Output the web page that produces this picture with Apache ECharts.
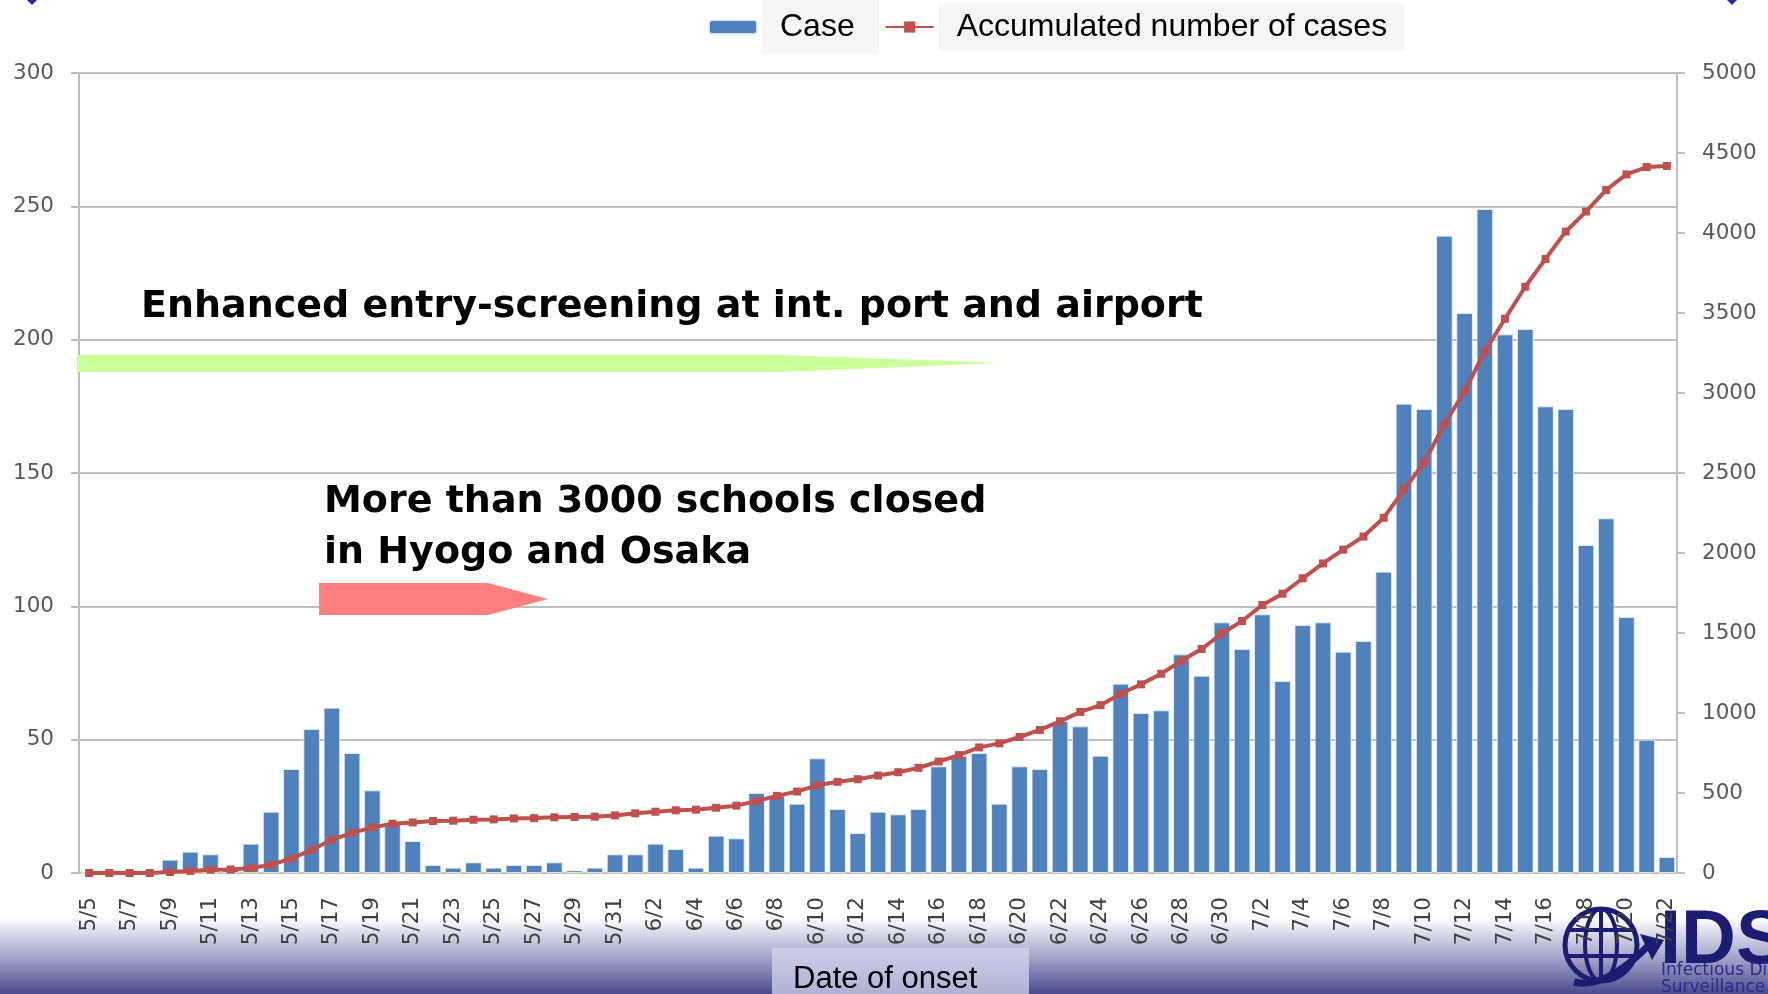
<!DOCTYPE html>
<html>
<head>
<meta charset="utf-8">
<title>Cases by date of onset</title>
<script src="https://cdn.jsdelivr.net/npm/echarts/dist/echarts.min.js"></script>
<style>
  html, body { margin: 0; padding: 0; background: #fff; }
  #chart { width: 1768px; height: 994px; }
</style>
</head>
<body>
<div id="chart"></div>
<script>
// date of onset, 5/5 - 7/22
var dates = [
  '5/5','5/6','5/7','5/8','5/9','5/10','5/11','5/12','5/13','5/14','5/15','5/16','5/17','5/18',
  '5/19','5/20','5/21','5/22','5/23','5/24','5/25','5/26','5/27','5/28','5/29','5/30','5/31',
  '6/1','6/2','6/3','6/4','6/5','6/6','6/7','6/8','6/9','6/10','6/11','6/12','6/13','6/14','6/15',
  '6/16','6/17','6/18','6/19','6/20','6/21','6/22','6/23','6/24','6/25','6/26','6/27','6/28','6/29','6/30',
  '7/1','7/2','7/3','7/4','7/5','7/6','7/7','7/8','7/9','7/10','7/11','7/12','7/13','7/14','7/15',
  '7/16','7/17','7/18','7/19','7/20','7/21','7/22'
];
// daily cases (left axis)
var cases = [
  0,0,0,0,5,8,7,2,11,23,39,54,62,45,31,19,12,3,2,4,2,3,3,4,1,2,7,
  7,11,9,2,14,13,30,29,26,43,24,15,23,22,24,40,44,45,26,40,39,57,55,44,71,60,61,82,74,94,
  84,97,72,93,94,83,87,113,176,174,239,210,249,202,204,175,174,123,133,96,50,6
];
// accumulated number of cases (right axis)
var accumulated = [
  0,0,0,0,6,13,21,22,31,52,90,144,209,251,285,308,316,325,327,333,335,341,343,348,350,352,360,
  373,383,392,396,408,421,450,482,509,549,570,586,609,630,657,697,737,785,810,850,894,948,1007,1049,1120,1179,1245,1326,1400,1497,
  1575,1675,1746,1842,1935,2021,2103,2220,2395,2566,2805,3011,3261,3464,3664,3838,4009,4134,4269,4366,4412,4419
];

var navy = '#1c1c72';
var axisGray = '#bfbfbf';

var chart = echarts.init(document.getElementById('chart'));
chart.setOption({
  animation: false,
  legend: {
    left: 708,
    top: 0,
    padding: 0,
    itemGap: 6,
    itemWidth: 48,
    itemHeight: 14,
    data: [
      { name: 'Case', textStyle: { padding: [11, 24, 11, 18] } },
      { name: 'Accumulated number of cases', textStyle: { padding: [8, 18, 8, 18] } }
    ],
    textStyle: {
      fontFamily: 'Liberation Sans',
      fontSize: 32,
      color: '#000',
      backgroundColor: '#f6f6f6'
    }
  },
  grid: { left: 79, right: 91, top: 73, bottom: 121 },
  xAxis: {
    type: 'category',
    data: dates,
    axisLine: { lineStyle: { color: '#d4c3a6', width: 1.5 } },
    axisTick: { interval: 1, length: 8, lineStyle: { color: axisGray, width: 2 } },
    axisLabel: {
      interval: 1,
      rotate: 90,
      margin: 24,
      fontFamily: 'DejaVu Sans',
      fontSize: 21.5,
      color: '#404040'
    }
  },
  yAxis: [
    {
      type: 'value',
      min: 0, max: 300, interval: 50,
      axisLine: { show: true, lineStyle: { color: axisGray, width: 2 } },
      axisTick: { show: true, length: 8, lineStyle: { color: axisGray, width: 2 } },
      splitLine: { lineStyle: { color: axisGray, width: 2 } },
      axisLabel: { margin: 25, fontFamily: 'DejaVu Sans', fontSize: 21.5, color: '#595959' }
    },
    {
      type: 'value',
      min: 0, max: 5000, interval: 500,
      axisLine: { show: true, lineStyle: { color: axisGray, width: 2 } },
      axisTick: { show: true, length: 8, lineStyle: { color: axisGray, width: 2 } },
      splitLine: { show: false },
      axisLabel: {
        margin: 25, fontFamily: 'DejaVu Sans', fontSize: 21.5, color: '#595959',
        formatter: function (v) { return String(v); } // no thousands separator
      }
    }
  ],
  series: [
    {
      name: 'Case',
      type: 'bar',
      data: cases,
      barCategoryGap: '18%',
      itemStyle: { color: '#4f81bd', borderColor: 'rgba(235,241,250,0.8)', borderWidth: 1 }
    },
    {
      name: 'Accumulated number of cases',
      type: 'line',
      yAxisIndex: 1,
      data: accumulated,
      symbol: 'rect',
      symbolSize: 8,
      showAllSymbol: true,
      lineStyle: { color: '#c0504d', width: 4 },
      itemStyle: { color: '#c0504d' }
    }
  ],
  graphic: [
    // purple band at the bottom
    {
      type: 'rect', z: -10, silent: true,
      shape: { x: 0, y: 912, width: 1768, height: 82 },
      style: {
        fill: new echarts.graphic.LinearGradient(0, 0, 0, 1, [
          { offset: 0, color: 'rgba(255,255,255,0)' },
          { offset: 0.2, color: '#e4e4f0' },
          { offset: 0.55, color: '#a5a5cb' },
          { offset: 1, color: '#4a4a8e' }
        ])
      }
    },
    // axis title box
    {
      type: 'rect', z: -5, silent: true,
      shape: { x: 772, y: 948, width: 257, height: 50 },
      style: { fill: 'rgba(212,212,238,0.75)' }
    },
    {
      type: 'text', z: 100, left: 793, top: 964,
      style: { text: 'Date of onset', fontFamily: 'Liberation Sans', fontSize: 31, fill: '#000' }
    },
    // enhanced entry screening arrow
    {
      type: 'polygon', z: 50, silent: true,
      shape: { points: [[77, 355], [780, 355], [1001, 363], [780, 372], [77, 372]] },
      style: { fill: '#ccff99' }
    },
    {
      type: 'text', z: 100, left: 141, top: 288,
      style: {
        text: 'Enhanced entry-screening at int. port and airport',
        fontFamily: 'DejaVu Sans', fontWeight: 'bold', fontSize: 38, fill: '#000'
      }
    },
    // school closure arrow
    {
      type: 'polygon', z: 50, silent: true,
      shape: { points: [[319, 583], [488, 583], [548, 599], [488, 615], [319, 615]] },
      style: { fill: '#ff7f7f' }
    },
    {
      type: 'text', z: 100, left: 324, top: 477,
      style: {
        text: 'More than 3000 schools closed\nin Hyogo and Osaka',
        fontFamily: 'DejaVu Sans', fontWeight: 'bold', fontSize: 38, lineHeight: 51, fill: '#000'
      }
    },
    // corner marks
    {
      type: 'polygon', z: 100, silent: true,
      shape: { points: [[32, -5], [37, 0], [32, 5], [27, 0]] },
      style: { fill: '#2b2ba0' }
    },
    {
      type: 'polygon', z: 100, silent: true,
      shape: { points: [[1732, -5], [1737, 0], [1732, 5], [1727, 0]] },
      style: { fill: '#2b2ba0' }
    },
    // IDSC logo
    {
      type: 'group', z: 100, silent: true,
      children: [
        { type: 'circle', shape: { cx: 1601, cy: 945, r: 36 }, style: { fill: 'none', stroke: navy, lineWidth: 5 } },
        { type: 'ellipse', shape: { cx: 1601, cy: 945, rx: 16, ry: 36 }, style: { fill: 'none', stroke: navy, lineWidth: 4 } },
        { type: 'line', shape: { x1: 1601, y1: 909, x2: 1601, y2: 981 }, style: { stroke: navy, lineWidth: 4 } },
        { type: 'line', shape: { x1: 1569, y1: 930, x2: 1633, y2: 930 }, style: { stroke: navy, lineWidth: 4 } },
        { type: 'line', shape: { x1: 1566, y1: 956, x2: 1636, y2: 956 }, style: { stroke: navy, lineWidth: 4 } },
        { type: 'bezierCurve', shape: { x1: 1574, y1: 982, cpx1: 1605, cpy1: 990, x2: 1650, y2: 944 }, style: { fill: 'none', stroke: navy, lineWidth: 7 } },
        { type: 'polygon', shape: { points: [[1640, 934], [1664, 940], [1652, 960]] }, style: { fill: navy } },
        {
          type: 'text', x: 1660, y: 904,
          style: { text: 'IDS', fontFamily: 'Liberation Sans', fontWeight: 'bold', fontSize: 76, fill: navy }
        },
        {
          type: 'text', x: 1661, y: 962,
          style: { text: 'Infectious Disease', fontFamily: 'DejaVu Sans', fontSize: 17, fill: '#2a2a86' }
        },
        {
          type: 'text', x: 1661, y: 979,
          style: { text: 'Surveillance Center', fontFamily: 'DejaVu Sans', fontSize: 17, fill: '#2a2a86' }
        }
      ]
    }
  ]
});
</script>
</body>
</html>
